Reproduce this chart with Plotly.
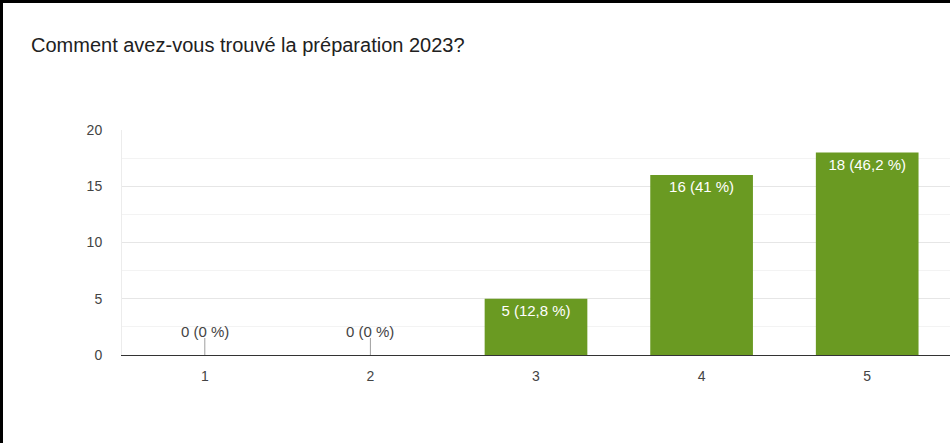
import plotly.graph_objects as go

categories = ["1", "2", "3", "4", "5"]
counts = [0, 0, 5, 16, 18]
percents = ["0 %", "0 %", "12,8 %", "41 %", "46,2 %"]
title_text = "Comment avez-vous trouvé la préparation 2023?"

labels = [f"{c} ({p})" for c, p in zip(counts, percents)]
xpos = [int(c) for c in categories]

W, H = 950, 443
L, R, T, B = 122, 0, 130, 88
pw, ph = W - L - R, H - T - B
FONT = "Arial, Liberation Sans, sans-serif"

def px_x(p):
    return (p - L) / pw

def px_y(p):
    return (H - B - p) / ph

fig = go.Figure()
fig.add_trace(go.Bar(
    x=xpos,
    y=counts,
    marker=dict(color="#6a9a22", line=dict(width=0)),
    width=0.62,
    text=[lab if v > 0 else "" for lab, v in zip(labels, counts)],
    textposition="inside",
    insidetextanchor="end",
    textangle=0,
    constraintext="none",
    textfont=dict(color="white", size=15, family=FONT),
    hoverinfo="skip",
))

annotations = []
shapes = []
for x, v, lab in zip(xpos, counts, labels):
    if v == 0:
        annotations.append(dict(
            x=x, y=v, xref="x", yref="y", text=lab,
            showarrow=False, xanchor="center", yanchor="bottom", yshift=13,
            font=dict(color="#444444", size=15, family=FONT),
        ))
        shapes.append(dict(
            type="line", xref="x", yref="y", ysizemode="pixel", yanchor=v,
            x0=x, x1=x, y0=0, y1=17, line=dict(color="#9e9e9e", width=1),
        ))

annotations.append(dict(
    x=px_x(29), y=px_y(45), xref="paper", yref="paper", xanchor="left", yanchor="middle",
    text=title_text, showarrow=False,
    font=dict(color="#212121", size=20, family=FONT),
))

shapes += [
    dict(type="line", xref="paper", yref="paper", x0=px_x(0), x1=px_x(W), y0=px_y(1.5), y1=px_y(1.5),
         line=dict(color="black", width=3)),
    dict(type="line", xref="paper", yref="paper", x0=px_x(1.5), x1=px_x(1.5), y0=px_y(0), y1=px_y(H),
         line=dict(color="black", width=3)),
]

fig.update_layout(
    width=W, height=H,
    margin=dict(l=L, r=R, t=T, b=B, pad=0),
    paper_bgcolor="white", plot_bgcolor="white",
    showlegend=False,
    annotations=annotations,
    shapes=shapes,
    font=dict(family=FONT, color="#444444", size=14),
    xaxis=dict(
        range=[0.5, 5.5], tickmode="array", tickvals=xpos, ticktext=categories,
        showgrid=False, zeroline=False, showline=True, linecolor="#333333", linewidth=1,
        ticks="", ticklabelstandoff=8, tickfont=dict(size=14, color="#444444"),
        fixedrange=True,
    ),
    yaxis=dict(
        range=[0, 20], tickmode="array", tickvals=[0, 5, 10, 15, 20],
        showgrid=True, gridcolor="#e6e6e6", gridwidth=1,
        minor=dict(tickmode="array", tickvals=[2.5, 7.5, 12.5, 17.5], showgrid=True, gridcolor="#f3f3f3"),
        zeroline=False, showline=True, linecolor="#ececec", linewidth=1,
        ticks="", ticklabelstandoff=16, tickfont=dict(size=14, color="#444444"),
        fixedrange=True,
    ),
)

fig.write_html("out.html", config={"displayModeBar": False},
               post_script="document.body.style.margin='0';document.body.style.padding='0';")
